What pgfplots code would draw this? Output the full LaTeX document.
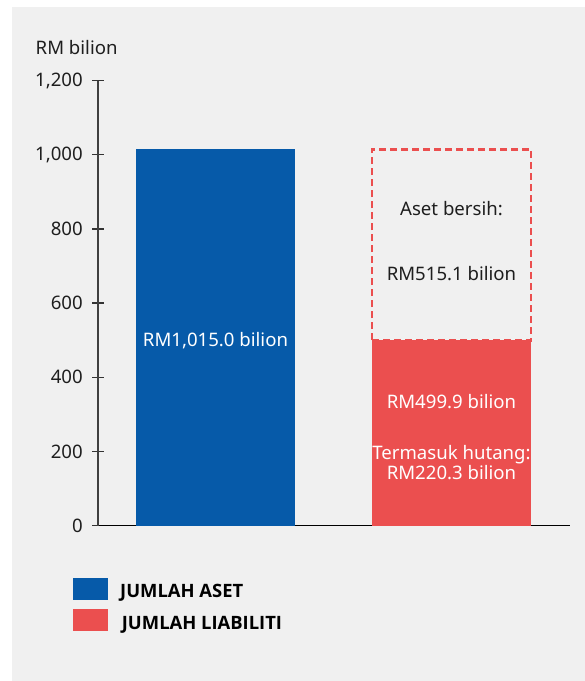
\documentclass[border=0pt]{standalone}
\usepackage{pgfplots}
\pgfplotsset{compat=1.18}
\usepackage{fontspec}
\setmainfont{Noto Sans}
\newfontfamily\legf{Open Sans}
\definecolor{bgc}{HTML}{F0F0F0}
\definecolor{asetblue}{HTML}{065AA9}
\definecolor{liabred}{HTML}{EB4F4F}
\definecolor{txt}{HTML}{1E1E1E}
\newcommand\f{\fontsize{18.6bp}{22bp}\selectfont}
\begin{document}
\begin{tikzpicture}
\path[use as bounding box] (0,0) rectangle (585bp,-681bp);
\fill[white] (0,0) rectangle (585bp,-681bp);
\fill[bgc] (11.5bp,-7bp) rectangle (585bp,-681bp);
\node[anchor=base west, inner sep=0pt, text=txt, font=\f] at (35.5bp,-54.3bp) {RM bilion};
\begin{axis}[
  at={(98bp,-525.5bp)}, anchor=south west,
  scale only axis, width=472bp, height=444.8bp,
  xmin=-0.4979, xmax=1.5021, ymin=0, ymax=1200,
  enlargelimits=false, clip=false,
  axis x line*=bottom, axis y line*=left,
  x axis line style={-, draw=black, line width=1.5bp},
  y axis line style={-, draw=black!75, line width=1.5bp},
  xtick=\empty, ytick={0,200,...,1200},
  tick align=center, major tick length=11.5bp,
  ytick style={draw=black!80, line width=1.3bp},
  yticklabel style={font=\f, text=txt, anchor=east, xshift=-6bp},
  /pgf/number format/1000 sep={,},
  /pgf/number format/assume math mode=true,
]
% bars: Jumlah aset, Jumlah liabiliti
\addplot[ybar, bar width=0.6737, bar shift=0pt, fill=asetblue, draw=none] coordinates {(0,1015.0)};
\addplot[ybar, bar width=0.6737, bar shift=0pt, fill=liabred, draw=none] coordinates {(1,499.9)};
% aset bersih (499.9 + 515.1 = 1015.0), outlined box
\addplot[sharp plot, no marks, draw=liabred, line width=2.7bp, dash pattern=on 7bp off 4bp]
  coordinates {(0.66315,499.9) (0.66315,1015.0) (1.33685,1015.0) (1.33685,499.9) (0.66315,499.9)};
\node[anchor=base, text=white, font=\f, inner sep=0pt] at (axis cs:0,482.4) {RM1,015.0 bilion};
\node[anchor=base, text=white, font=\f, inner sep=0pt] at (axis cs:1,317.0) {RM499.9 bilion};
\node[anchor=base, text=white, font=\f, inner sep=0pt] at (axis cs:1,179.4) {Termasuk hutang:};
\node[anchor=base, text=white, font=\f, inner sep=0pt] at (axis cs:1,122.8) {RM220.3 bilion};
\node[anchor=base, text=txt, font=\f, inner sep=0pt] at (axis cs:1,835.0) {Aset bersih:};
\node[anchor=base, text=txt, font=\f, inner sep=0pt] at (axis cs:1,660.4) {RM515.1 bilion};
\end{axis}
\fill[asetblue] (72.7bp,-578bp) rectangle (108.3bp,-599.7bp);
\fill[liabred] (72.7bp,-609bp) rectangle (108.3bp,-631bp);
\node[anchor=base west, inner sep=0pt, text=black, font=\legf\bfseries\fontsize{18.4bp}{22bp}\selectfont] at (120bp,-597.3bp) {JUMLAH ASET};
\node[anchor=base west, inner sep=0pt, text=black, font=\legf\bfseries\fontsize{18.4bp}{22bp}\selectfont] at (121.7bp,-629bp) {JUMLAH LIABILITI};
\end{tikzpicture}
\end{document}
